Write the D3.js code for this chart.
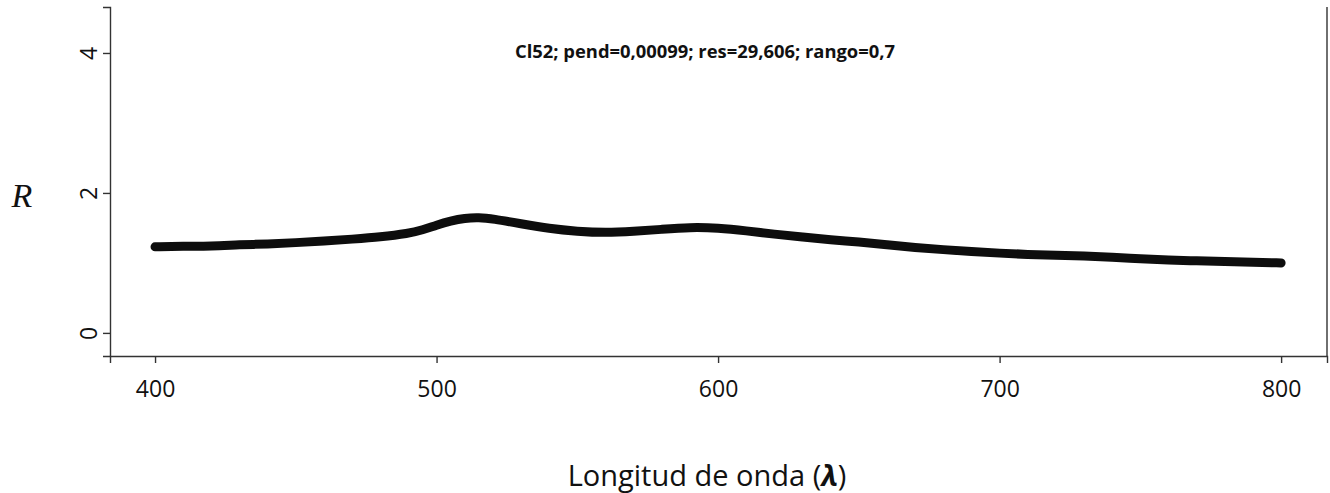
<!DOCTYPE html>
<meta charset="utf-8">
<style>
body { margin: 0; background: #fff; }
.axis text { font-family: "Open Sans", sans-serif; font-size: 23px; fill: #111; }
.axis path, .axis line { fill: none; stroke: #333; stroke-width: 1.4; }
</style>
<svg id="chart" width="1330" height="493"></svg>
<script src="https://d3js.org/d3.v7.min.js"></script>
<script>

// wavelength (nm) and reflectance R
var wavelength = [400, 410, 420, 430, 440, 450, 460, 470, 480, 490, 495, 500, 505, 510, 515, 520, 530, 540, 550, 560, 570,
                  580, 590, 600, 610, 620, 630, 640, 650, 660, 670, 680, 690, 700, 710, 720, 730, 740, 750, 760, 770,
                  780, 790, 800];
var reflect = [1.23, 1.24, 1.24, 1.26, 1.27, 1.29, 1.31, 1.34, 1.37, 1.42, 1.47, 1.54, 1.60, 1.64, 1.65, 1.63, 1.56, 1.49, 1.45, 1.43, 1.45,
               1.48, 1.51, 1.50, 1.46, 1.41, 1.37, 1.33, 1.30, 1.26, 1.22, 1.19, 1.16, 1.14, 1.12, 1.11, 1.10, 1.08, 1.06, 1.04, 1.03,
               1.02, 1.01, 1.00];
var xTicks = [400, 500, 600, 700, 800];
var yTicks = [0, 2, 4];
var title = "Cl52; pend=0,00099; res=29,606; rango=0,7";

var svg = d3.select("#chart");

var x = d3.scaleLinear().domain([384, 816.3]).range([110, 1327]);
var y = d3.scaleLinear().domain([-0.33, 4.657]).range([356, 7]);

// right border
svg.append("line")
  .attr("x1", 1327).attr("x2", 1327)
  .attr("y1", 7).attr("y2", 356)
  .attr("stroke", "#333").attr("stroke-width", 1.4);

var yAxis = svg.append("g")
  .attr("class", "axis")
  .attr("transform", "translate(110,0)")
  .call(d3.axisLeft(y).tickValues(yTicks).tickFormat(d3.format("d")).tickSizeOuter(0).tickSize(7));
yAxis.selectAll("text")
  .attr("transform", "rotate(-90)")
  .attr("x", 0).attr("y", -21)
  .attr("dy", "0.35em")
  .attr("text-anchor", "middle");

var xAxis = svg.append("g")
  .attr("class", "axis")
  .attr("transform", "translate(0,356)")
  .call(d3.axisBottom(x).tickValues(xTicks).tickFormat(d3.format("d")).tickSizeOuter(0).tickSize(7));
xAxis.selectAll("text").attr("dy", 0).attr("y", 41);

var pts = wavelength.map(function(d, i) { return [d, reflect[i]]; });

var line = d3.line()
  .x(function(d) { return x(d[0]); })
  .y(function(d) { return y(d[1]); })
  .curve(d3.curveBasis);

svg.append("path")
  .datum(pts)
  .attr("d", line)
  .attr("fill", "none")
  .attr("stroke", "#0d0d0d")
  .attr("stroke-width", 9)
  .attr("stroke-linecap", "round")
  .attr("stroke-linejoin", "round");

svg.append("text")
  .attr("x", 705).attr("y", 58)
  .attr("text-anchor", "middle")
  .attr("textLength", 380)
  .attr("lengthAdjust", "spacingAndGlyphs")
  .style("font", "bold 18px 'Open Sans', sans-serif")
  .style("fill", "#111")
  .text(title);

var xl = svg.append("text")
  .attr("x", 707).attr("y", 486)
  .attr("text-anchor", "middle")
  .style("font", "29px 'Open Sans', sans-serif")
  .style("fill", "#111");
xl.append("tspan").text("Longitud de onda (");
xl.append("tspan").style("font-weight", "bold").style("font-style", "italic").text("λ");
xl.append("tspan").text(")");

svg.append("text")
  .attr("x", 22).attr("y", 207)
  .attr("text-anchor", "middle")
  .style("font", "italic 34px 'Liberation Serif', serif")
  .style("fill", "#111")
  .text("R");

</script>
